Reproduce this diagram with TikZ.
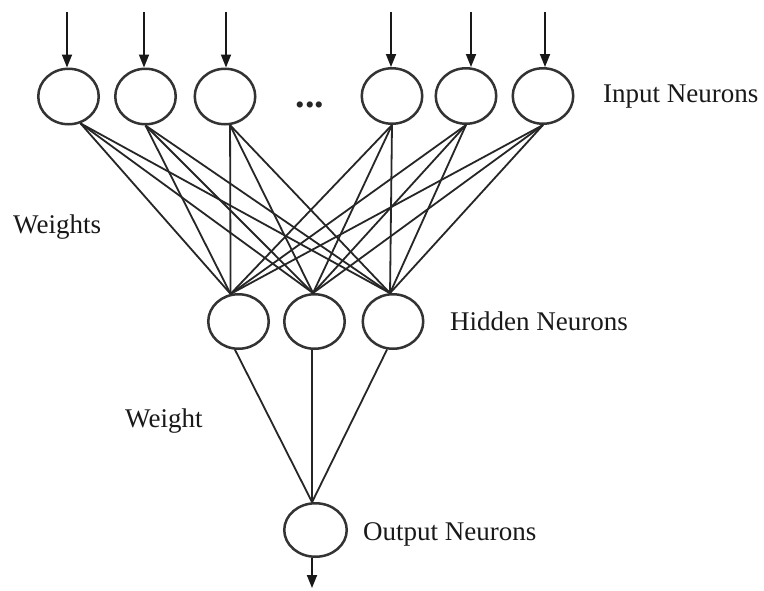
\documentclass[tikz,border=0pt]{standalone}
\usepackage{fontspec}
\setmainfont{Liberation Serif}
\usetikzlibrary{shapes.geometric,arrows.meta}
\begin{document}
\begin{tikzpicture}[x=1pt,y=-1pt,
  neuron/.style={ellipse,draw=black!80,line width=2.5pt,minimum width=60.5pt,minimum height=55.5pt,inner sep=0pt},
  link/.style={draw=black!85,line width=1.8pt},
  feed/.style={draw=black!90,line width=1.8pt,-{Triangle[length=13pt,width=10pt]}},
  lbl/.style={font=\fontsize{27}{30}\selectfont,anchor=base west,inner sep=0pt,text=black!90}]
\useasboundingbox[fill=white] (0,0) rectangle (764,590);

% input layer
\node[neuron] (in1) at (68.5,96.5) {};
\node[neuron] (in2) at (145.5,96.5) {};
\node[neuron] (in3) at (225,96.5) {};
\node[neuron] (in4) at (392,96) {};
\node[neuron] (in5) at (466,96) {};
\node[neuron] (in6) at (543,96) {};
\node[font=\bfseries\fontsize{38}{40}\selectfont,anchor=base,inner sep=0pt,text=black!85] (dots) at (310,107) {...};

% hidden layer
\node[neuron,minimum height=54.5pt] (h1) at (238.5,321.5) {};
\node[neuron,minimum height=54.5pt] (h2) at (314.5,321.5) {};
\node[neuron,minimum height=54.5pt] (h3) at (393,321.5) {};

% output layer
\node[neuron,minimum width=62.5pt,minimum height=53.5pt] (o) at (315.5,530) {};

% incoming signals
\coordinate (t1) at (67,12);
\coordinate (t2) at (144,12);
\coordinate (t3) at (226,12);
\coordinate (t4) at (391,12);
\coordinate (t5) at (471,12);
\coordinate (t6) at (545,12);
\foreach \i in {1,...,6}
  \draw[feed] (t\i) -- (t\i |- in\i.north);

% outgoing signal
\coordinate (oe) at (312,588);
\draw[feed] (oe |- o.south) -- (oe);

% input -> hidden weights
\coordinate (s1) at (in1.-66);
\coordinate (s2) at (in2.south);
\coordinate (s3) at (in3.-80);
\coordinate (s4) at (in4.south);
\coordinate (s5) at (in5.south);
\coordinate (s6) at (in6.south);
\coordinate (e1) at (h1.106);
\coordinate (e2) at (h2.93);
\coordinate (e3) at (h3.96);
\foreach \i in {1,...,6}
  \foreach \j in {1,2,3}
    \draw[link] (s\i) -- (e\j);

% hidden -> output weights
\coordinate (oi) at (o.97);
\draw[link] (h1.-97) -- (oi);
\draw[link] (h2.-95) -- (oi);
\draw[link] (h3.-102) -- (oi);

% labels
\node[lbl] (linput) at (603,102.7) {Input Neurons};
\node[lbl] (lhidden) at (450,330) {Hidden Neurons};
\node[lbl] (loutput) at (363,540) {Output Neurons};
\node[lbl] (lweights) at (13,233) {Weights};
\node[lbl] (lweight) at (125,427) {Weight};
\end{tikzpicture}
\end{document}
